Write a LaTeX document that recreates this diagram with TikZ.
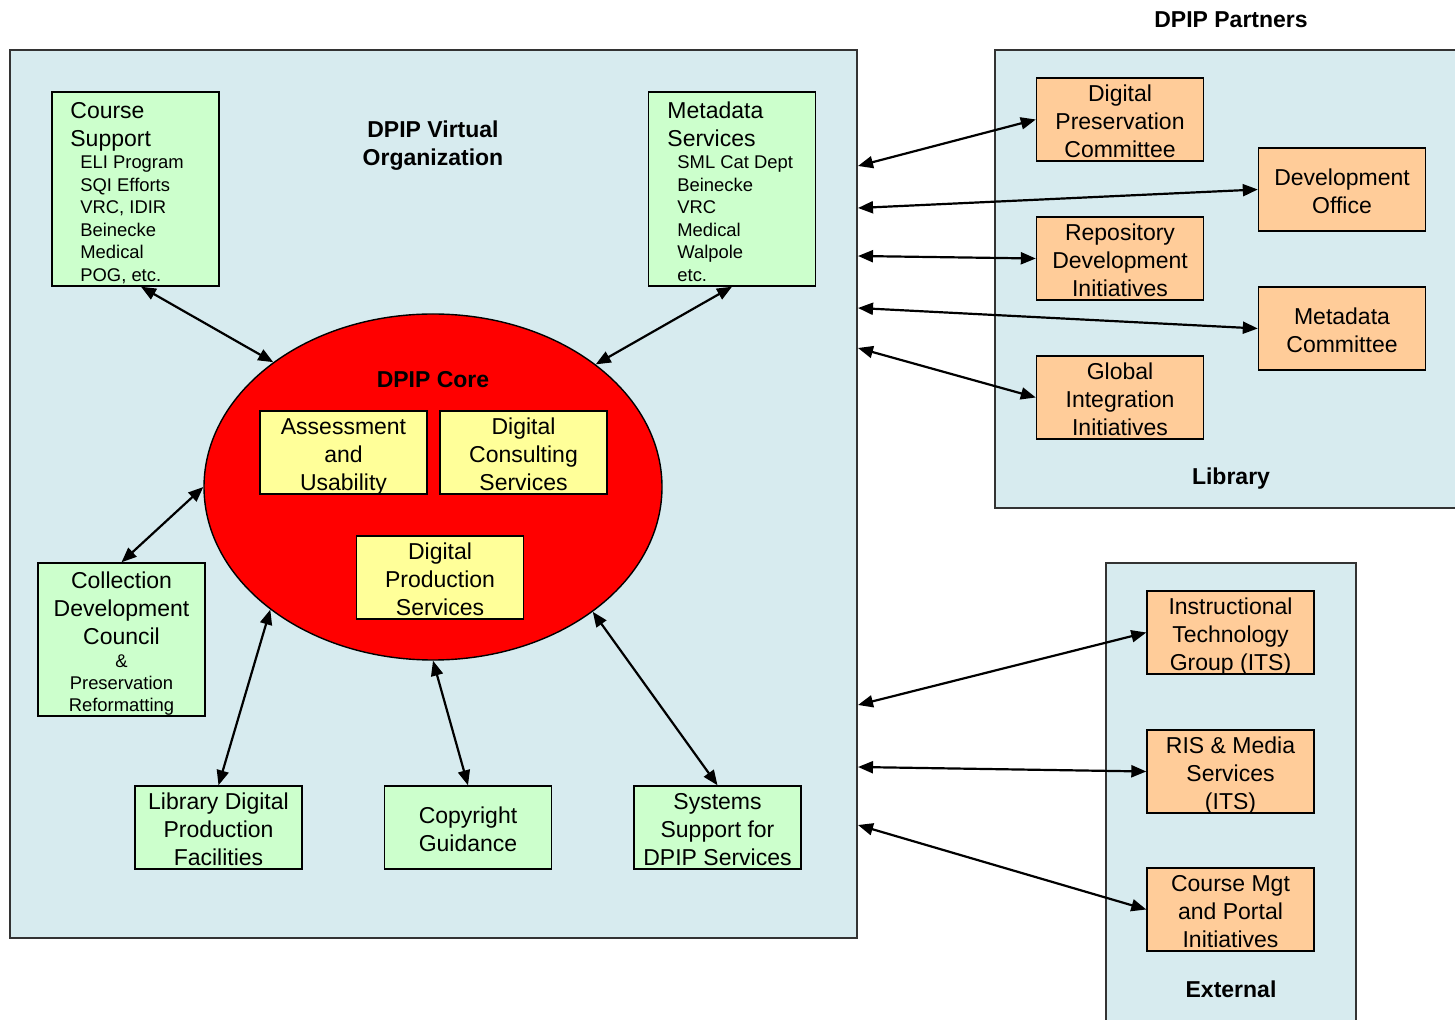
\documentclass[tikz,border=0pt]{standalone}
\usepackage{fontspec}
\setmainfont{Liberation Sans}
\usetikzlibrary{shapes.geometric,arrows.meta}
\definecolor{voblue}{RGB}{215,235,239}
\definecolor{boxgreen}{RGB}{204,255,204}
\definecolor{boxorange}{RGB}{255,204,153}
\definecolor{boxyellow}{RGB}{255,255,153}
\newcommand{\ts}{\rule{0pt}{0.9em}}
\tikzset{
  mainfont/.style={font=\fontsize{11.5}{14}\selectfont},
  smallfont/.style={font=\fontsize{9.2}{11.25}\selectfont},
  titlefont/.style={font=\bfseries\fontsize{11.5}{14}\selectfont},
  region/.style={draw=black!80, line width=0.6pt, fill=voblue},
  boxbase/.style={draw=black, line width=0.7pt, inner sep=0pt, align=center, mainfont, text depth=0pt, minimum width=83.5pt, minimum height=41.5pt},
  gbox/.style={boxbase, fill=boxgreen},
  obox/.style={boxbase, fill=boxorange},
  ybox/.style={boxbase, fill=boxyellow},
  txt/.style={inner sep=0pt, align=center, text depth=0pt},
  link/.style={line width=1.1pt, {Triangle[length=7.5pt,width=6pt]}-{Triangle[length=7.5pt,width=6pt]}}
}
\begin{document}
\begin{tikzpicture}[x=0.5pt,y=-0.5pt]
\useasboundingbox (0,0) rectangle (1455,1020);
\fill[white] (0,0) rectangle (1455,1020);
% regions
\draw[region] (10,50) rectangle (857,938);
\draw[region] (995,50) rectangle (1458,508);
\draw[region] (1106,563) rectangle (1356,1030);
\node[txt,titlefont] (vot) at (433,141.5) {\ts DPIP Virtual\\Organization};
\node[txt,titlefont] (part) at (1231,17.5) {\ts DPIP Partners};
\node[txt,titlefont] (libt) at (1231,474.5) {\ts Library};
\node[txt,titlefont] (extt) at (1231,987) {\ts External};
% core
\node[ellipse, draw=black, line width=0.7pt, fill=red, minimum width=229pt, minimum height=173pt, inner sep=0pt] (core) at (433,487) {};
\node[txt,titlefont] (coret) at (433,377.5) {\ts DPIP Core};
\node[ybox] (au) at (343.5,452.5) {\ts Assessment\\and\\Usability};
\node[ybox] (dcs) at (523.5,452.5) {\ts Digital\\Consulting\\Services};
\node[ybox] (dps) at (440,577.5) {\ts Digital\\Production\\Services};
% green boxes
\node[gbox, minimum height=97pt] (cs) at (135.5,189) {};
\node[txt,mainfont,anchor=west,align=left] (cst) at (70,122) {\ts Course\\Support};
\node[txt,smallfont,anchor=west,align=left] (csi) at (80,216.5) {\ts ELI Program\\SQI Efforts\\VRC, IDIR\\Beinecke\\Medical\\POG, etc.};
\node[gbox, minimum height=97pt] (ms) at (732,189) {};
\node[txt,mainfont,anchor=west,align=left] (mst) at (667,122) {\ts Metadata\\Services};
\node[txt,smallfont,anchor=west,align=left] (msi) at (677,216.5) {\ts SML Cat Dept\\Beinecke\\VRC\\Medical\\Walpole\\etc.};
\node[gbox, minimum height=76.5pt] (cdc) at (121.5,639.5) {};
\node[txt,mainfont] (cdct) at (121.5,606) {\ts Collection\\Development\\Council};
\node[txt,font=\fontsize{9.2}{11}\selectfont] (cdci) at (121.5,681.4) {\ts\&\\Preservation\\Reformatting};
\node[gbox] (ldp) at (218.5,827.5) {\ts Library Digital\\Production\\Facilities};
\node[gbox] (cg) at (468,827.5) {\ts Copyright\\Guidance};
\node[gbox] (ss) at (717.5,827.5) {\ts Systems\\Support for\\DPIP Services};
% partner boxes
\node[obox] (dpc) at (1120,119.5) {\ts Digital\\Preservation\\Committee};
\node[obox] (dev) at (1342,189.5) {\ts Development\\Office};
\node[obox] (rdi) at (1120,258.5) {\ts Repository\\Development\\Initiatives};
\node[obox] (mc) at (1342,328.5) {\ts Metadata\\Committee};
\node[obox] (gii) at (1120,397.5) {\ts Global\\Integration\\Initiatives};
\node[obox] (itg) at (1230.5,632.5) {\ts Instructional\\Technology\\Group (ITS)};
\node[obox] (ris) at (1230.5,771.5) {\ts RIS \& Media\\Services\\(ITS)};
\node[obox] (cmp) at (1230.5,909.5) {\ts Course Mgt\\and Portal\\Initiatives};
% VO edge points
\coordinate (v1) at (858,166);
\coordinate (v2) at (858,208);
\coordinate (v3) at (858,256);
\coordinate (v4) at (858,308);
\coordinate (v5) at (858,348);
\coordinate (v6) at (858,705);
\coordinate (v7) at (858,767);
\coordinate (v8) at (858,825);
% connectors
\draw[link] ([xshift=2.75pt]cs.south) -- (core.142.7);
\draw[link] (ms.south) -- (core.37.1);
\draw[link] (cdc.north) -- (core.180);
\draw[link] (ldp.north) -- (core.217.7);
\draw[link] (cg.north) -- (core.270);
\draw[link] (ss.north) -- (core.322.7);
\draw[link] (v1) -- (dpc.west);
\draw[link] (v2) -- (dev.west);
\draw[link] (v3) -- (rdi.west);
\draw[link] (v4) -- (mc.west);
\draw[link] (v5) -- (gii.west);
\draw[link] (v6) -- (itg.west);
\draw[link] (v7) -- (ris.west);
\draw[link] (v8) -- (cmp.west);
\end{tikzpicture}
\end{document}
